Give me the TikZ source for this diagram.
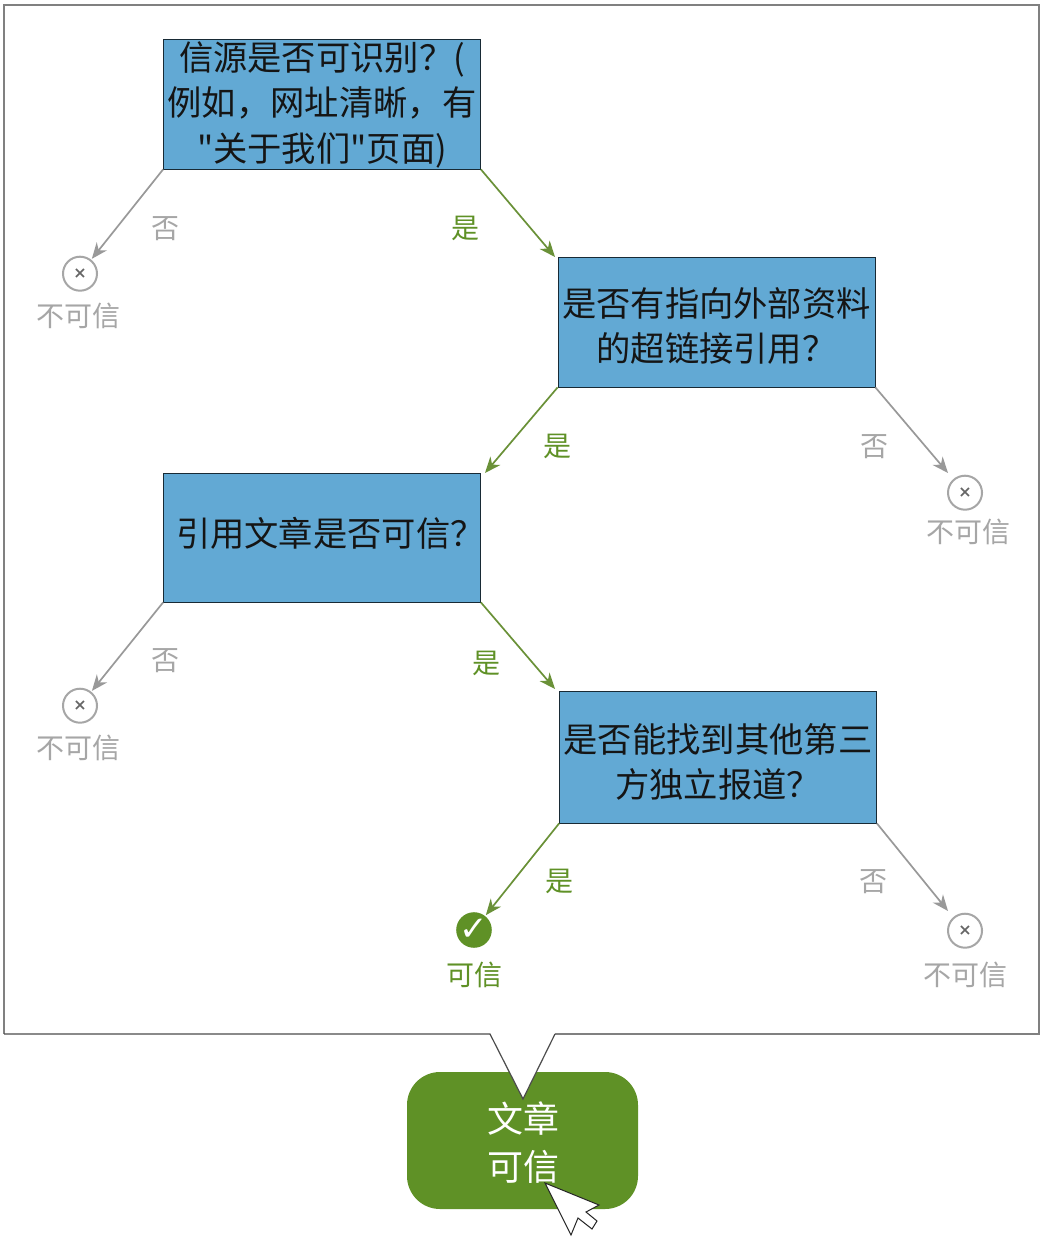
\documentclass[tikz,border=0pt]{standalone}
\usepackage{fontspec}
\setmainfont{Noto Sans CJK SC}
\newfontfamily\cjkplain{Noto Sans CJK SC}
\newfontfamily\symfont{DejaVu Sans}
\usetikzlibrary{arrows.meta}
\definecolor{boxblue}{HTML}{62A9D4}
\definecolor{okgreen}{HTML}{5F9126}
\definecolor{okline}{HTML}{6A9138}
\definecolor{nogray}{HTML}{A6A6A6}
\definecolor{txt}{HTML}{151515}
\tikzset{
  x=1pt,y=-1pt,
  qbox/.style={draw=black!75!boxblue,line width=0.8pt,fill=boxblue,minimum width=317pt,minimum height=130pt,inner sep=0pt,align=center,text=txt,font=\cjkplain\fontsize{34.3}{45.5}\selectfont},
  yesline/.style={draw=okline,line width=1.7pt,-{Stealth[length=16pt,width=13pt,inset=5pt]}},
  noline/.style={draw=nogray!92!black,line width=1.7pt,-{Stealth[length=16pt,width=13pt,inset=5pt]}},
  nolabel/.style={text=nogray,font=\fontsize{28}{30}\selectfont,inner sep=0pt},
  yeslabel/.style={text=okgreen,font=\fontsize{28}{30}\selectfont,inner sep=0pt},
  xmark/.style={circle,draw=nogray,line width=2pt,fill=white,minimum size=34pt,inner sep=0pt,text=black!60,font=\symfont\bfseries\fontsize{16}{16}\selectfont},
  okmark/.style={circle,fill=okgreen,minimum size=35pt,inner sep=0pt,text=white,font=\symfont\bfseries\fontsize{34}{34}\selectfont},
}
\begin{document}
\begin{tikzpicture}
\useasboundingbox[fill=white] (0,0) rectangle (1048,1246);
% outer frame with notch
\coordinate (fa) at (4,1034);
\coordinate (fb) at (490,1034);
\coordinate (fc) at (523,1099);
\coordinate (fd) at (555,1034);
\coordinate (fe) at (1039,1034);
\node[fill=okgreen,rounded corners=33pt,minimum width=231pt,minimum height=137pt,inner sep=0pt] (verdict) at (522.5,1140.5) {};
\fill[white] (fa) -- (fb) -- (fc) -- (fd) -- (fe) -- (1039,5) -- (4,5) -- cycle;
\draw[black!50,line width=1.2pt] (fd) -- (fe) -- (1039,5) -- (4,5) -- (fa);
\draw[black!70,line width=1.2pt] (fa) -- (fb) -- (fc) -- (fd);
\node[text=white,font=\fontsize{36}{48}\selectfont,align=center,inner sep=0pt] (verdicttext) at (523,1143) {文章\\可信};
% cursor
\draw[fill=white,draw=black!85,line width=1pt,line join=miter] (545,1183) -- (599,1205) -- (586,1212) -- (597,1221) -- (592,1229) -- (578,1218) -- (571,1235) -- cycle;
% question boxes
\node[qbox,minimum height=130pt] (q1) at (322,104) {\rule{0pt}{30pt}信源是否可识别？(\\例如，网址清晰，有\\"关于我们"页面)};
\node[qbox,minimum height=130pt] (q2) at (716.5,322) {\rule{0pt}{37pt}是否有指向外部资料\\的超链接引用？};
\node[qbox,minimum height=129pt,text width=317pt] (q3) at (322,537.5) {\hspace*{12.5pt}\rule[-11pt]{0pt}{20pt}引用文章是否可信？};
\node[qbox,minimum height=132pt] (q4) at (718,757) {\rule{0pt}{39pt}是否能找到其他第三\\方独立报道？};
% outcome marks
\node[xmark] (x1) at (80,273.7) {×};
\node[xmark] (x2) at (965,492.7) {×};
\node[xmark] (x3) at (80,705.7) {×};
\node[xmark] (x4) at (965,930.7) {×};
\node[okmark] (ok) at (474,930) {✓};
\node[nolabel] (t1) at (78,316) {不可信};
\node[nolabel] (t2) at (968,532) {不可信};
\node[nolabel] (t3) at (78,748) {不可信};
\node[nolabel] (t4) at (965,975) {不可信};
\node[yeslabel] (t5) at (474,975) {可信};
% connectors
\coordinate (q2in) at (555,257);
\coordinate (q3in) at (485,473);
\coordinate (q4in) at (555,689);
\coordinate (x2in) at (948,473);
\coordinate (x4in) at (948,911);
\draw[noline,shorten >=1pt] (q1.south west) -- (x1);
\draw[yesline] (q1.south east) -- (q2in);
\draw[yesline] (q2.south west) -- (q3in);
\draw[noline] (q2.south east) -- (x2in);
\draw[noline,shorten >=1pt] (q3.south west) -- (x3);
\draw[yesline] (q3.south east) -- (q4in);
\draw[yesline,shorten >=1pt] (q4.south west) -- (ok);
\draw[noline] (q4.south east) -- (x4in);
% branch labels
\node[nolabel] (l1) at (165,228.5) {否};
\node[yeslabel] (l2) at (465,228.5) {是};
\node[yeslabel] (l3) at (557,446.5) {是};
\node[nolabel] (l4) at (874,446.5) {否};
\node[nolabel] (l5) at (165,660.5) {否};
\node[yeslabel] (l6) at (486,663.5) {是};
\node[yeslabel] (l7) at (559,881.5) {是};
\node[nolabel] (l8) at (873,881.5) {否};
\end{tikzpicture}
\end{document}
